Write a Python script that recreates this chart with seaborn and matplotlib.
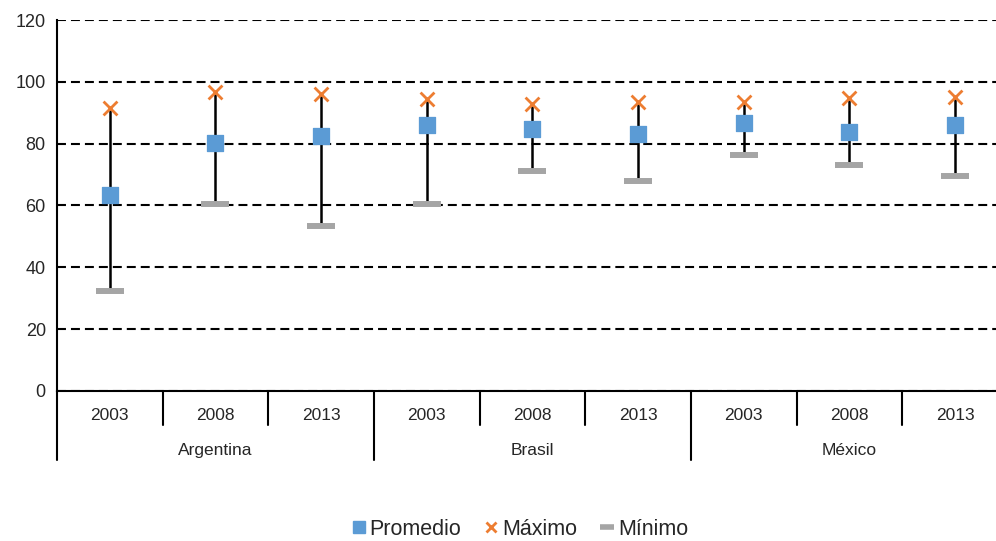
import numpy as np
import pandas as pd
import matplotlib
matplotlib.use("Agg")
import matplotlib.pyplot as plt
import matplotlib.transforms as mtransforms
from matplotlib.lines import Line2D
import seaborn as sns

paises = ["Argentina", "Brasil", "México"]
anios = ["2003", "2008", "2013"]
promedio = [63.5, 80.1, 82.5, 86.0, 84.6, 83.1, 86.8, 83.8, 86.1]
maximo = [91.5, 96.6, 96.0, 94.3, 92.8, 93.6, 93.5, 94.8, 95.0]
minimo = [32.3, 60.4, 53.3, 60.4, 71.3, 68.0, 76.2, 73.0, 69.4]

df = pd.DataFrame({
    "pais": np.repeat(paises, len(anios)),
    "anio": anios * len(paises),
    "Promedio": promedio,
    "Máximo": maximo,
    "Mínimo": minimo,
})
df["pos"] = np.arange(len(df))

sns.set_style("white")
plt.rcParams["font.family"] = ["Liberation Sans", "DejaVu Sans"]

fig = plt.figure(figsize=(9.96, 5.41), dpi=100)
ax = fig.add_axes([0.0572, 0.2773, 0.9548, 0.6857])

azul, naranja, gris = "#5B9BD5", "#ED7D31", "#A5A5A5"

# lineas min-max
ax.vlines(df["pos"], df["Mínimo"], df["Máximo"], color="black", lw=1.8, zorder=2)

sns.scatterplot(data=df, x="pos", y="Mínimo", marker="_", s=380, color=gris,
                linewidth=4.3, ax=ax, zorder=3, legend=False)
sns.scatterplot(data=df, x="pos", y="Promedio", marker="s", s=135, color=azul,
                edgecolor=azul, ax=ax, zorder=4, legend=False)
sns.scatterplot(data=df, x="pos", y="Máximo", marker="x", s=100, color=naranja,
                linewidth=2, ax=ax, zorder=4, legend=False)

ax.set_xlim(-0.5, len(df) - 0.5)
ax.set_ylim(0, 120)
ax.set_yticks(range(0, 121, 20))
ax.yaxis.grid(True, color="black", linestyle=(0, (4.3, 2.4)), lw=1.5)
ax.set_axisbelow(True)
ax.tick_params(axis="y", length=0, labelsize=13, pad=8)
ax.set_xticks([])
ax.set_xlabel("")
ax.set_ylabel("")
for s in ["top", "right"]:
    ax.spines[s].set_visible(False)
for s in ["left", "bottom"]:
    ax.spines[s].set_color("black")
    ax.spines[s].set_linewidth(1.5)

# eje categorico de dos niveles
trans = mtransforms.blended_transform_factory(ax.transData, ax.transAxes)
h = ax.get_position().height * fig.get_figheight() * 100
y1 = -34 / h
y2 = -69 / h
for i, row in df.iterrows():
    ax.text(row["pos"], -25 / h, row["anio"], transform=trans, ha="center",
            va="center", fontsize=12.5)
    if i % 3 != 0:
        ax.plot([i - 0.5, i - 0.5], [0, y1], transform=trans, color="black",
                lw=1.5, clip_on=False)
for g, p in enumerate(paises):
    ax.text(g * 3 + 1, -60 / h, p, transform=trans, ha="center", va="center",
            fontsize=12.5)
    ax.plot([g * 3 - 0.5, g * 3 - 0.5], [0, y2], transform=trans,
            color="black", lw=1.5, clip_on=False)

handles = [
    Line2D([], [], marker="s", color=azul, ls="", markersize=8),
    Line2D([], [], marker="x", color=naranja, ls="", markersize=6.5, mew=2),
    Line2D([], [], marker="_", color=gris, ls="", markersize=10, mew=4),
]
fig.legend(handles, ["Promedio", "Máximo", "Mínimo"], loc="center",
           bbox_to_anchor=(0.52, 0.022), ncol=3, frameon=False, fontsize=15.5,
           handletextpad=0.0, columnspacing=0.9, handlelength=1.0)

fig.savefig("out.png", dpi=100)
